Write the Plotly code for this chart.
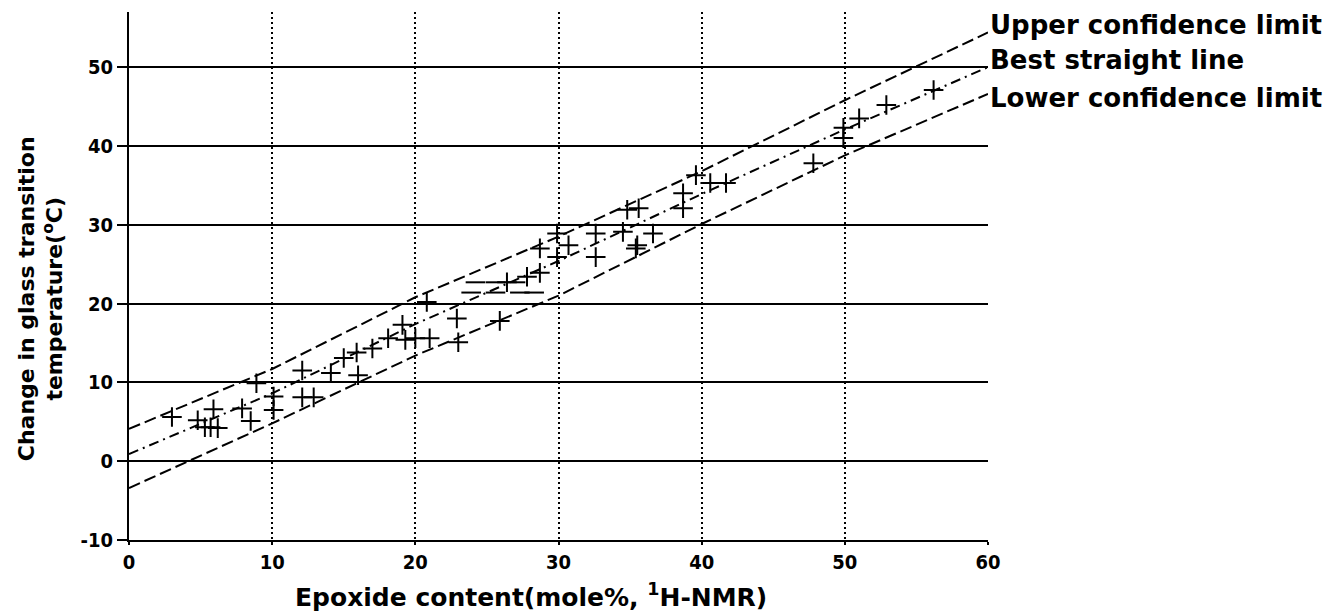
import plotly.graph_objects as go

# ---- data ----
pt_x = [3.0, 4.8, 5.3, 5.7, 6.2, 5.9, 7.9, 8.5, 8.9, 10.1, 10.1, 12.1, 12.1, 12.9,
        14.1, 15.0, 15.9, 17.0, 16.0, 19.1, 18.1, 19.3, 20.0, 21.0, 20.8, 22.9, 23.0,
        25.9, 26.4, 27.8, 28.7, 28.7, 29.9, 29.9, 30.7, 32.6, 32.6, 34.5, 35.5, 36.6,
        34.8, 35.6, 35.4, 38.7, 38.7, 39.6, 40.6, 41.7, 47.8, 49.9, 49.9, 51.0, 52.9, 56.2]
pt_y = [5.6, 5.2, 4.3, 4.3, 4.2, 6.6, 6.7, 5.1, 9.9, 6.5, 8.2, 11.5, 8.1, 8.1,
        11.2, 13.1, 13.8, 14.3, 10.9, 17.3, 15.6, 15.4, 15.6, 15.6, 20.2, 18.1, 15.1,
        17.8, 22.7, 23.4, 23.9, 27.0, 28.9, 25.9, 27.4, 28.9, 25.9, 29.1, 27.4, 28.9,
        31.9, 32.1, 27.0, 34.0, 32.1, 36.3, 35.3, 35.3, 37.8, 42.3, 41.0, 43.5, 45.2, 47.1]
dash_x = [24.2, 25.6, 27.0, 23.9, 25.6, 27.3, 28.3]
dash_y = [22.7, 22.7, 22.7, 21.4, 21.4, 21.4, 21.4]

band_x = [0, 10, 20, 30, 40, 50, 60]
upper = [4.1, 11.7, 20.8, 28.5, 36.8, 45.8, 54.4]
best = [0.9, 8.6, 17.4, 25.4, 33.9, 42.1, 50.0]
lower = [-3.4, 4.8, 13.4, 21.0, 30.1, 38.8, 46.6]

x_ticks = [0, 10, 20, 30, 40, 50, 60]
y_ticks = [-10, 0, 10, 20, 30, 40, 50]
line_labels = ["Upper confidence limit", "Best straight line", "Lower confidence limit"]

TICKFONT = dict(family="Liberation Sans Narrow, DejaVu Sans Condensed, sans-serif",
                size=20, color="black", weight="bold")
TXTFONT = "DejaVu Sans, sans-serif"

fig = go.Figure()
fig.add_trace(go.Scatter(x=band_x, y=upper, mode="lines",
                         line=dict(color="black", width=2, dash="12px,5px")))
fig.add_trace(go.Scatter(x=band_x, y=best, mode="lines",
                         line=dict(color="black", width=2, dash="10px,5px,2px,5px")))
fig.add_trace(go.Scatter(x=band_x, y=lower, mode="lines",
                         line=dict(color="black", width=2, dash="12px,5px")))
fig.add_trace(go.Scatter(x=pt_x, y=pt_y, mode="markers",
                         marker=dict(symbol="cross-thin", size=14, color="black",
                                     line=dict(color="black", width=2))))
fig.add_trace(go.Scatter(x=dash_x, y=dash_y, mode="markers",
                         marker=dict(symbol="line-ew", size=14, color="black",
                                     line=dict(color="black", width=2))))

ends = [upper[-1], best[-1], lower[-1]]
shifts = [7, 7, -4]
for lab, yv, sh in zip(line_labels, ends, shifts):
    fig.add_annotation(x=band_x[-1], y=yv, xref="x", yref="y", text=lab,
                       showarrow=False, xanchor="left", yanchor="middle",
                       xshift=0, yshift=sh,
                       font=dict(family=TXTFONT, size=26, color="black", weight="bold"))

fig.add_annotation(x=0.468, y=-0.106, xref="paper", yref="paper",
                   text="Epoxide content(mole%, <sup>1</sup>H-NMR)", showarrow=False,
                   xanchor="center", yanchor="middle",
                   font=dict(family=TXTFONT, size=25, color="black", weight="bold"))
fig.add_annotation(x=-0.103, y=0.457, xref="paper", yref="paper",
                   text="Change in glass transition<br>temperature(<sup>o</sup>C)",
                   showarrow=False, textangle=-90, xanchor="center", yanchor="middle",
                   font=dict(family=TXTFONT, size=22, color="black", weight="bold"))

fig.update_layout(
    width=1334, height=612,
    paper_bgcolor="white", plot_bgcolor="white",
    showlegend=False,
    margin=dict(l=129, r=346, t=12, b=72),
    xaxis=dict(range=[0, 60], tickvals=x_ticks, ticktext=[str(v) for v in x_ticks],
               showgrid=True, gridcolor="black", gridwidth=2, griddash="2px,3px",
               showline=True, linecolor="black", linewidth=2,
               ticks="outside", ticklen=3, tickwidth=2, tickcolor="black",
               tickfont=TICKFONT, zeroline=False),
    yaxis=dict(range=[-10, 57], tickvals=y_ticks, ticktext=[str(v) for v in y_ticks],
               showgrid=True, gridcolor="black", gridwidth=2,
               showline=True, linecolor="black", linewidth=2,
               ticks="outside", ticklen=10, tickwidth=2, tickcolor="black",
               tickfont=TICKFONT, zeroline=False),
)

fig.write_html("out.html", config={"displayModeBar": False},
               post_script="document.body.style.margin='0';document.body.style.overflow='hidden';")
